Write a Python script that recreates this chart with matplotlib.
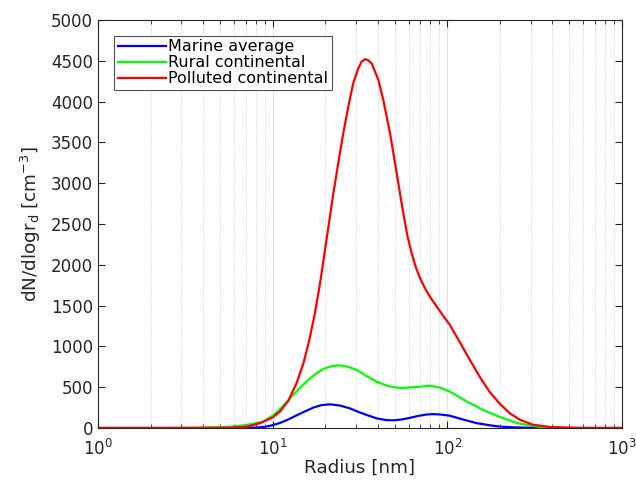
import numpy as np
import matplotlib
matplotlib.use("Agg")
import matplotlib.pyplot as plt
from matplotlib.ticker import LogLocator, NullFormatter

# values (radius in nm, dN/dlogr in cm^-3)
r_marine = [1, 5, 7.1, 8.46, 9.3, 10, 11, 12.3, 13.7, 15.0, 17.1, 19.0, 21.3, 24.3, 27.7,
            30.3, 34.5, 39.4, 45, 50, 55, 61, 68, 76, 83, 90.8, 103.6, 115, 130, 147,
            175, 200, 251, 339, 500, 1000]
n_marine = [0, 0, 2, 8, 20, 35, 62, 105, 155, 195, 250, 280, 290, 275, 240,
            205, 160, 118, 96, 95, 105, 124, 148, 165, 170, 166, 150, 122, 90, 60,
            33, 17, 6, 2, 0, 0]

r_rural = [1, 2, 3.84, 4.55, 5.7, 7.1, 8.8, 10, 11, 12.3, 13.1, 14.3, 16.4, 18.5, 19.9,
           22, 24.3, 27, 30.3, 34, 39.4, 46, 53.6, 60, 69.7, 79.6, 90.8, 103.6, 118, 130,
           147, 160, 175, 200, 251, 339, 500, 1000]
n_rural = [0, 0, 3, 8, 16, 37, 77, 150, 230, 340, 405, 490, 610, 695, 730,
           760, 768, 750, 711, 645, 567, 512, 490, 495, 506, 518, 495, 445, 375, 320,
           265, 222, 185, 135, 60, 12, 0, 0]

r_polluted = [1, 3, 5.7, 7.1, 8.5, 10, 11, 12.3, 13.7, 15.0, 16.1, 17.5, 18.7, 19.9, 21.3,
              22.2, 23.8, 25.4, 27.1, 28.9, 30.9, 32.3, 33.8, 35.3, 36.9, 40.3, 43.0, 47.0,
              50.2, 52.4, 56, 59, 62.5, 66, 70, 75, 80, 90.8, 103.6, 118, 135, 154, 175,
              200, 228, 261, 309, 387, 575, 1000]
n_polluted = [0, 0, 3, 16, 60, 130, 200, 335, 548, 793, 1050, 1420, 1780, 2170, 2600,
              2860, 3260, 3620, 3937, 4222, 4406, 4490, 4520, 4505, 4467, 4265, 4020, 3610,
              3243, 3000, 2630, 2360, 2140, 1970, 1830, 1700, 1600, 1430, 1260, 1050, 830,
              620, 440, 295, 180, 100, 40, 12, 0, 0]

labels = ["Marine average", "Rural continental", "Polluted continental"]
colors = ["#0000ff", "#00ff00", "#ff0000"]

axcol = "#262626"
plt.rcParams["font.family"] = "DejaVu Sans"

fig = plt.figure(figsize=(6.36, 4.8), dpi=100)
ax = fig.add_axes([98/636, 52/480, 524/636, 408/480])

for r, n, lab, c in zip([r_marine, r_rural, r_polluted],
                        [n_marine, n_rural, n_polluted], labels, colors):
    ax.plot(r, n, color=c, lw=1.6, label=lab)

ax.set_xscale("log")
ax.set_xlim(1, 1000)
ax.set_ylim(0, 5000)
ax.set_yticks(np.arange(0, 5001, 500))
ax.xaxis.set_minor_locator(LogLocator(base=10, subs=np.arange(2, 10)))
ax.xaxis.set_minor_formatter(NullFormatter())

ax.grid(True, axis="x", which="major", color="#dedede", lw=0.6, ls="-")
ax.grid(True, axis="x", which="minor", color="#c8c8c8", lw=0.6, ls=":")
ax.set_axisbelow(True)

ax.tick_params(which="both", direction="in", top=True, right=True,
               colors=axcol, labelcolor=axcol, labelsize=12)
ax.tick_params(which="major", length=5)
ax.tick_params(which="minor", length=3)
ax.tick_params(axis="x", which="major", pad=8)
for s in ax.spines.values():
    s.set_color(axcol)
    s.set_linewidth(0.8)

ax.set_xlabel("Radius [nm]", fontsize=13.2, color=axcol, labelpad=0)
ax.set_ylabel(r"dN/dlogr$_\mathregular{d}$ [cm$^\mathregular{-3}$]", fontsize=13.2,
              color=axcol, labelpad=6)

leg = ax.legend(loc="upper left", bbox_to_anchor=(0.03, 0.962), fontsize=11.5,
                frameon=True, fancybox=False, handlelength=3.0, handletextpad=0.15,
                borderpad=0.25, labelspacing=0.05, borderaxespad=0)
leg.get_frame().set_edgecolor(axcol)
leg.get_frame().set_linewidth(0.8)

fig.savefig("out.png", dpi=100)
